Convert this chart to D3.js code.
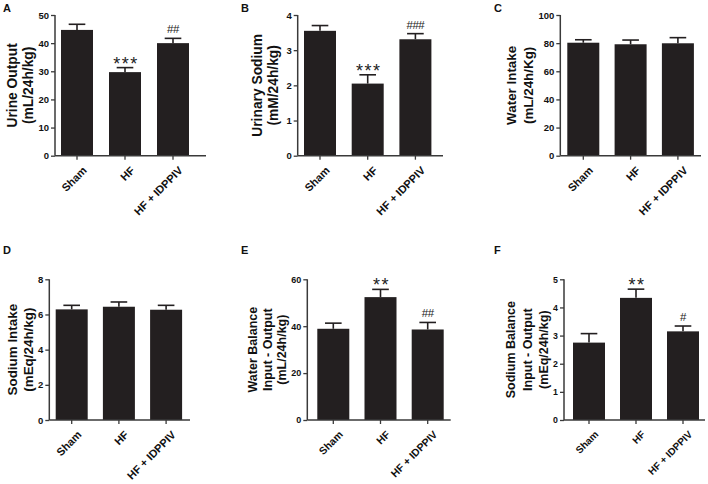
<!DOCTYPE html>
<html><head><meta charset="utf-8">
<script src="https://cdn.jsdelivr.net/npm/d3@7"></script>
<style>
body{margin:0;background:#fff;}
svg{display:block;font-family:"Liberation Sans",Arial,sans-serif;}
</style></head>
<body><svg id="chart" width="708" height="484"></svg>
<script>
// ---- data ----
const categories = ["Sham", "HF", "HF + IDPPIV"];

const urineOutput = [44.7, 29.7, 40.0];
const urineOutputErr = [2.0, 1.6, 1.7];
const urineOutputTicks = [0, 10, 20, 30, 40, 50];
const urineOutputMarks = ["", "***", "##"];

const urinarySodium = [3.55, 2.05, 3.31];
const urinarySodiumErr = [0.15, 0.25, 0.16];
const urinarySodiumTicks = [0, 1, 2, 3, 4];
const urinarySodiumMarks = ["", "***", "###"];

const waterIntake = [80.3, 79.2, 79.9];
const waterIntakeErr = [2.1, 3.0, 4.0];
const waterIntakeTicks = [0, 20, 40, 60, 80, 100];
const waterIntakeMarks = ["", "", ""];

const sodiumIntake = [6.29, 6.44, 6.27];
const sodiumIntakeErr = [0.23, 0.27, 0.25];
const sodiumIntakeTicks = [0, 2, 4, 6, 8];
const sodiumIntakeMarks = ["", "", ""];

const waterBalance = [38.9, 52.4, 38.6];
const waterBalanceErr = [2.4, 3.3, 3.0];
const waterBalanceTicks = [0, 20, 40, 60];
const waterBalanceMarks = ["", "**", "##"];

const sodiumBalance = [2.75, 4.34, 3.15];
const sodiumBalanceErr = [0.32, 0.31, 0.19];
const sodiumBalanceTicks = [0, 1, 2, 3, 4, 5];
const sodiumBalanceMarks = ["", "**", "#"];

const panelLetters = ["A", "B", "C", "D", "E", "F"];
const yLabels = [
  ["Urine Output", "(mL/24h/kg)"],
  ["Urinary Sodium", "(mM/24h/kg)"],
  ["Water Intake", "(mL/24h/Kg)"],
  ["Sodium Intake", "(mEq/24h/kg)"],
  ["Water Balance", "Input - Output", "(mL/24h/kg)"],
  ["Sodium Balance", "Input - Output", "(mEq/24h/kg)"]
];

// ---- layout (positions/styles only) ----
const panels = [
  {values: urineOutput, err: urineOutputErr, ticks: urineOutputTicks, marks: urineOutputMarks,
   ax: 55, top: 15, bot: 155.7, xEnd: 206, barOff: 6, step: 48, lab: {x: 3, y: 12}, ylx: [12, 28], fs: 13.8, tfs: 9.5, xfs: 11},
  {values: urinarySodium, err: urinarySodiumErr, ticks: urinarySodiumTicks, marks: urinarySodiumMarks,
   ax: 297.7, top: 15, bot: 155.7, xEnd: 443, barOff: 6.3, step: 47.7, lab: {x: 241, y: 12}, ylx: [257, 273], fs: 13.8, tfs: 9.5, xfs: 11},
  {values: waterIntake, err: waterIntakeErr, ticks: waterIntakeTicks, marks: waterIntakeMarks,
   ax: 560.3, top: 15, bot: 155.7, xEnd: 701, barOff: 7, step: 47.3, lab: {x: 494, y: 12}, ylx: [511, 528], fs: 13.4, tfs: 9.5, xfs: 11},
  {values: sodiumIntake, err: sodiumIntakeErr, ticks: sodiumIntakeTicks, marks: sodiumIntakeMarks,
   ax: 49.3, top: 279.3, bot: 420, xEnd: 190, barOff: 6.4, step: 47.2, lab: {x: 3, y: 254}, ylx: [12, 28], fs: 13.4, tfs: 9.5, xfs: 11},
  {values: waterBalance, err: waterBalanceErr, ticks: waterBalanceTicks, marks: waterBalanceMarks,
   ax: 307.3, top: 279.3, bot: 420, xEnd: 450.7, barOff: 10, step: 47.2, lab: {x: 241, y: 254}, ylx: [253.3, 267.5, 281.7], fs: 12.5, tfs: 9, xfs: 10.5},
  {values: sodiumBalance, err: sodiumBalanceErr, ticks: sodiumBalanceTicks, marks: sodiumBalanceMarks,
   ax: 564, top: 279.3, bot: 420, xEnd: 705, barOff: 9, step: 47, lab: {x: 494, y: 254}, ylx: [511.3, 527.5, 543.5], fs: 12.5, tfs: 8.8, xfs: 10}
];

const BAR = "#231f20", AXIS = "#3a3a3a";
const svg = d3.select("#chart");

panels.forEach((p, i) => {
  const g = svg.append("g");
  const yMax = p.ticks[p.ticks.length - 1];
  const y = d3.scaleLinear().domain([0, yMax]).range([p.bot, p.top]);
  const padIn = (p.step - 32) / p.step;
  const r0 = p.ax + p.barOff - p.step * padIn / 2;
  const x = d3.scaleBand().domain(categories)
    .range([r0, r0 + p.step * 3]).paddingInner(padIn).paddingOuter(padIn / 2);

  // bars
  g.selectAll("rect.bar").data(categories).join("rect")
    .attr("x", d => x(d)).attr("width", x.bandwidth())
    .attr("y", (d, k) => y(p.values[k]))
    .attr("height", (d, k) => y(0) - y(p.values[k]))
    .attr("fill", BAR);

  // error bars (upper only)
  const cw = x.bandwidth() * 0.26;
  categories.forEach((c, k) => {
    const cx = x(c) + x.bandwidth() / 2;
    const yt = y(p.values[k] + p.err[k]);
    g.append("line").attr("x1", cx).attr("x2", cx)
      .attr("y1", y(p.values[k])).attr("y2", yt)
      .attr("stroke", BAR).attr("stroke-width", 1.6);
    g.append("line").attr("x1", cx - cw).attr("x2", cx + cw)
      .attr("y1", yt).attr("y2", yt)
      .attr("stroke", BAR).attr("stroke-width", 1.6);
    const m = p.marks[k];
    if (m) {
      const isStar = m[0] === "*";
      g.append("text").attr("x", cx + (isStar ? 1 : 0))
        .attr("y", yt - (isStar ? -2 : 5))
        .attr("text-anchor", "middle")
        .attr("font-size", isStar ? 18 : 11.5)
        .attr("letter-spacing", isStar ? 1.5 : -0.5)
        .attr("fill", "#222")
        .text(m);
    }
  });

  // y axis
  const ya = g.append("g").attr("transform", `translate(${p.ax},0)`)
    .call(d3.axisLeft(y).tickValues(p.ticks).tickSize(4).tickPadding(2).tickFormat(d3.format("d")));
  ya.select(".domain").attr("stroke", AXIS).attr("stroke-width", 1.5)
    .attr("d", `M0,${p.top}V${p.bot}`);
  ya.selectAll(".tick line").attr("stroke", AXIS).attr("stroke-width", 1.3);
  ya.selectAll(".tick text").attr("font-size", p.tfs).attr("font-weight", "bold")
    .attr("fill", "#111").attr("font-family", "Liberation Sans, Arial, sans-serif");

  // x axis
  const xa = g.append("g").attr("transform", `translate(0,${p.bot})`)
    .call(d3.axisBottom(x).tickSize(4).tickFormat(""));
  xa.select(".domain").attr("stroke", AXIS).attr("stroke-width", 1.5)
    .attr("d", `M${p.ax},0H${p.xEnd}`);
  xa.selectAll(".tick line").attr("stroke", AXIS).attr("stroke-width", 1.3);
  categories.forEach(c => {
    const cx = x(c) + x.bandwidth() / 2;
    g.append("text")
      .attr("transform", `translate(${cx + 5},${p.bot + 10}) rotate(-45)`)
      .attr("text-anchor", "end").attr("dy", "0.7em")
      .attr("font-size", p.xfs).attr("font-weight", "bold").attr("fill", "#111")
      .text(c);
  });

  // y label
  const cy = (p.top + p.bot) / 2;
  yLabels[i].forEach((t, k) => {
    g.append("text")
      .attr("transform", `translate(${p.ylx[k]},${cy}) rotate(-90)`)
      .attr("text-anchor", "middle").attr("dominant-baseline", "central")
      .attr("font-size", p.fs).attr("font-weight", "bold").attr("fill", "#111")
      .text(t);
  });

  // panel letter
  g.append("text").attr("x", p.lab.x).attr("y", p.lab.y)
    .attr("font-size", 11).attr("font-weight", "bold").attr("fill", "#111")
    .text(panelLetters[i]);
});
</script></body></html>
